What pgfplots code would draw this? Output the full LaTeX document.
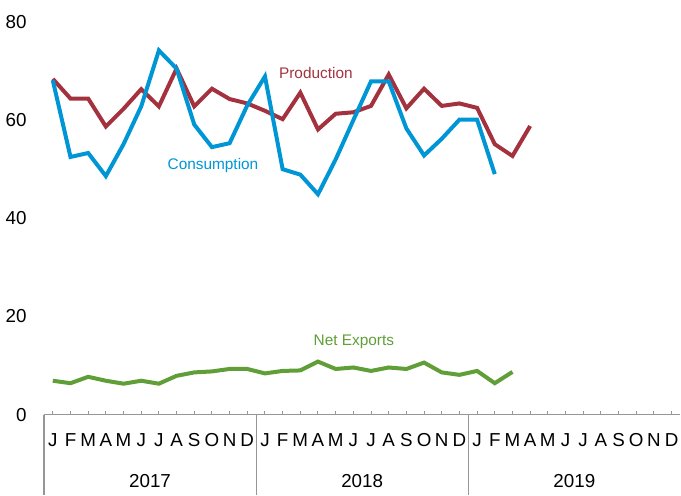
\documentclass[border=0pt]{standalone}
\usepackage{pgfplots}
\pgfplotsset{compat=1.18}
\usepackage{fontspec}
\setmainfont{Liberation Sans}

\definecolor{prodred}{RGB}{164,50,62}
\definecolor{consblue}{RGB}{0,150,214}
\definecolor{expgreen}{RGB}{96,158,56}
\definecolor{axgray}{RGB}{150,150,150}

\begin{document}
\begin{tikzpicture}
\begin{axis}[
  width=318.5pt, height=196.5pt,
  scale only axis,
  clip=false,
  xmin=-0.5, xmax=35.5,
  ymin=0, ymax=80,
  axis x line*=bottom,
  axis y line*=left,
  x axis line style={axgray, line width=0.6pt},
  y axis line style={draw=none},
  xtick={0,...,35},
  xticklabels={J,F,M,A,M,J,J,A,S,O,N,D,J,F,M,A,M,J,J,A,S,O,N,D,J,F,M,A,M,J,J,A,S,O,N,D},
  xtick style={axgray, line width=0.5pt},
  xtick align=inside,
  major tick length=2pt,
  xticklabel style={anchor=base, inner sep=0pt, yshift=-16pt},
  ytick={0,20,40,60,80},
  yticklabels={0,20,40,60,80},
  ytick style={draw=none},
  yticklabel style={anchor=east, inner sep=0pt, xshift=-8.5pt},
  tick label style={font=\fontsize{9.4}{11}\selectfont},
  /pgf/number format/assume math mode=true,
  every axis plot/.append style={line width=2pt, no markers},
]
  % Production
  \addplot[prodred] coordinates {
    (0,68.4) (1,64.4) (2,64.4) (3,58.7) (4,62.3) (5,66.3) (6,62.8) (7,70.5)
    (8,62.8) (9,66.4) (10,64.3) (11,63.4) (12,61.9) (13,60.2) (14,65.6) (15,58.1)
    (16,61.3) (17,61.6) (18,62.9) (19,69.3) (20,62.4) (21,66.4) (22,62.9) (23,63.4)
    (24,62.5) (25,55.1) (26,52.7) (27,58.8)
  };
  % Consumption
  \addplot[consblue] coordinates {
    (0,68.1) (1,52.5) (2,53.3) (3,48.6) (4,55.1) (5,62.8) (6,74.2) (7,70.5)
    (8,59.1) (9,54.5) (10,55.3) (11,63.0) (12,68.9) (13,50.0) (14,48.9) (15,44.9)
    (16,52.0) (17,60.0) (18,67.9) (19,67.9) (20,58.3) (21,52.8) (22,56.2) (23,60.1)
    (24,60.1) (25,49.0)
  };
  % Net exports
  \addplot[expgreen] coordinates {
    (0,6.9) (1,6.4) (2,7.7) (3,6.9) (4,6.3) (5,6.9) (6,6.3) (7,7.9)
    (8,8.6) (9,8.8) (10,9.3) (11,9.3) (12,8.4) (13,8.9) (14,9.0) (15,10.8)
    (16,9.3) (17,9.6) (18,8.9) (19,9.6) (20,9.3) (21,10.6) (22,8.6) (23,8.1)
    (24,8.9) (25,6.4) (26,8.7)
  };

  % series labels
  \node[prodred, anchor=base, inner sep=0pt, font=\fontsize{7.7}{9}\selectfont] at (axis cs:14.88,68.4) {Production};
  \node[consblue, anchor=base, inner sep=0pt, font=\fontsize{7.7}{9}\selectfont] at (axis cs:9.06,49.9) {Consumption};
  \node[expgreen, anchor=base, inner sep=0pt, font=\fontsize{7.7}{9}\selectfont] at (axis cs:17.03,14.0) {Net Exports};

  % year separators and labels
  \draw[axgray, line width=0.6pt] (axis cs:-0.5,0) -- ([yshift=-40pt]axis cs:-0.5,0);
  \draw[axgray, line width=0.6pt] (axis cs:11.5,0) -- ([yshift=-40pt]axis cs:11.5,0);
  \draw[axgray, line width=0.6pt] (axis cs:23.5,0) -- ([yshift=-40pt]axis cs:23.5,0);
  \node[anchor=base, inner sep=0pt, font=\fontsize{9.4}{11}\selectfont] at ([yshift=-36.3pt]axis cs:5.5,0) {2017};
  \node[anchor=base, inner sep=0pt, font=\fontsize{9.4}{11}\selectfont] at ([yshift=-36.3pt]axis cs:17.5,0) {2018};
  \node[anchor=base, inner sep=0pt, font=\fontsize{9.4}{11}\selectfont] at ([yshift=-36.3pt]axis cs:29.5,0) {2019};

  % page extent
  \path (rel axis cs:-0.0691,-0.196) rectangle (rel axis cs:1,1.056);
  \clip (rel axis cs:-0.0691,-0.196) rectangle (rel axis cs:1,1.056);
\end{axis}
\end{tikzpicture}
\end{document}
